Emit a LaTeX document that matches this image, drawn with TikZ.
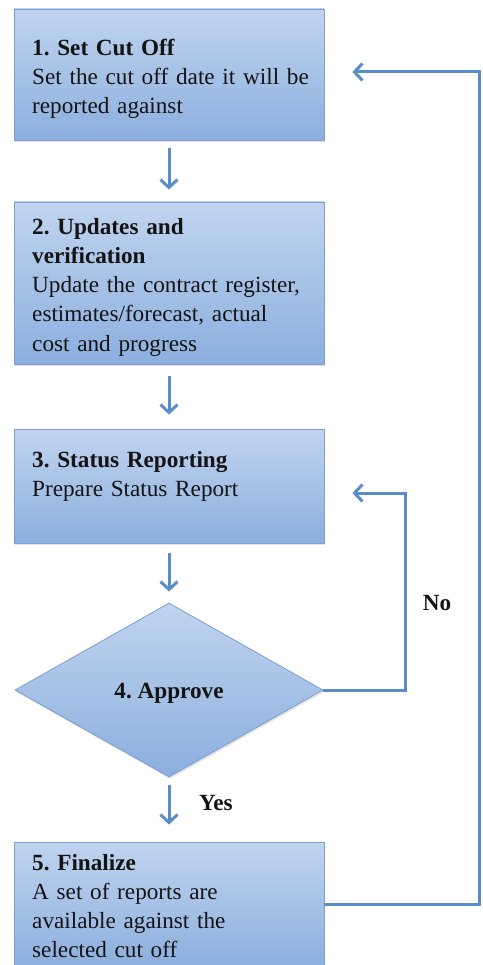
\documentclass[tikz,border=0pt]{standalone}
\usepackage{fontspec}
\setmainfont{Liberation Serif}
\usetikzlibrary{arrows.meta,shapes.geometric,shadows}
\definecolor{boxtop}{HTML}{C0D4EF}
\definecolor{boxbot}{HTML}{8CAFDE}
\definecolor{boxline}{HTML}{7A9ED0}
\definecolor{flowblue}{HTML}{5A8DC8}
\definecolor{inktext}{HTML}{141414}
\frenchspacing
\begin{document}
\begin{tikzpicture}[x=1pt,y=-1pt,
  shade/.style={draw=boxline, line width=0.8pt, top color=boxtop, bottom color=boxbot,
    drop shadow={opacity=0.22, shadow xshift=1pt, shadow yshift=-2pt}},
  stepbox/.style={shade, rectangle, minimum width=310pt, inner sep=0pt},
  decision/.style={shade, diamond, shape aspect=1.77, minimum width=308pt,
    minimum height=174pt, inner sep=0pt},
  txt/.style={anchor=base west, text width=288pt, align=left, inner sep=0pt,
    text=inktext, font=\fontsize{23.2}{29}\selectfont},
  lbl/.style={inner sep=0pt, text=inktext, font=\fontsize{23.2}{29}\selectfont\bfseries},
  flow/.style={draw=flowblue, line width=3pt,
    -{Straight Barb[length=8pt,width=17pt]}}
]
\useasboundingbox (0,0) rectangle (482,965);

% process boxes
\node[stepbox, minimum height=131pt] (b1) at (169,74.5) {};
\node[stepbox, minimum height=162pt] (b2) at (169,283) {};
\node[stepbox, minimum height=114pt] (b3) at (169,486) {};
\node[decision] (d4) at (169,690) {};
\node[stepbox, minimum height=124pt] (b5) at (169,904) {};

% box texts
\node[txt] (t1) at (32,56) {\textbf{1. Set Cut Off}\\Set the cut off date it will be\\reported against};
\node[txt] (t2) at (32,235) {\textbf{2. Updates and}\\\textbf{verification}\\Update the contract register,\\estimates/forecast, actual\\cost and progress};
\node[txt] (t3) at (32,467) {\textbf{3. Status Reporting}\\Prepare Status Report};
\node[lbl] (t4) at (169,693) {4. Approve};
\node[txt] (t5) at (32,870) {\textbf{5. Finalize}\\A set of reports are\\available against the\\selected cut off};

% main flow
\draw[flow, shorten <=8pt, shorten >=12pt] (b1.south) -- (b2.north);
\draw[flow, shorten <=12pt, shorten >=14pt] (b2.south) -- (b3.north);
\draw[flow, shorten <=10pt, shorten >=11pt] (b3.south) -- (d4.north);
\draw[flow, shorten <=8pt, shorten >=17pt] (d4.south) -- (b5.north);

% rejection loop back to status reporting
\coordinate (nocorner) at (405,493);
\draw[flow, shorten >=28pt] (d4.east) -| (nocorner) -- (nocorner -| b3.east);

% return from finalize to the next cut off
\coordinate (backcorner) at (479.5,72);
\draw[flow, shorten >=28pt] (b5.east) -| (backcorner) -- (backcorner -| b1.east);

% branch labels
\node[lbl] (no) at (437,603) {No};
\node[lbl] (yes) at (216,803) {Yes};
\end{tikzpicture}
\end{document}
